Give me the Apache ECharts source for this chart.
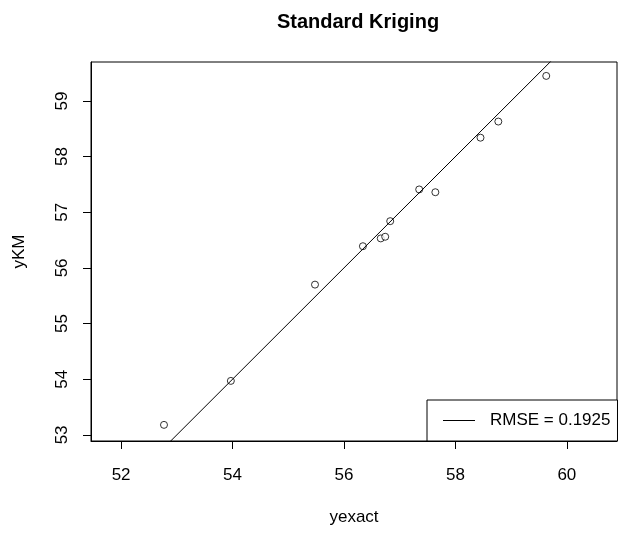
<!DOCTYPE html>
<html>
<head>
<meta charset="utf-8">
<script src="https://cdn.jsdelivr.net/npm/echarts@6/dist/echarts.min.js"></script>
<style>html,body{margin:0;padding:0;background:#fff;}#c{width:620px;height:533px;}</style>
</head>
<body>
<div id="c"></div>
<script>
// Data
var yexact = [52.77, 53.97, 55.48, 56.34, 56.66, 56.74, 56.83, 57.35, 57.64, 58.45, 58.77, 59.63];
var yKM    = [53.18, 53.97, 55.70, 56.39, 56.53, 56.56, 56.84, 57.41, 57.36, 58.34, 58.63, 59.45];
var xTicks = [52, 54, 56, 58, 60];
var yTicks = [53, 54, 55, 56, 57, 58, 59];
var refLine = [[50, 50], [62, 62]]; // y = x
var legendLabel = 'RMSE = 0.1925';
var titleText = 'Standard Kriging';

var points = yexact.map(function (x, i) { return [x, yKM[i]]; });
var font = 'Liberation Sans, Arial, sans-serif';

var chart = echarts.init(document.getElementById('c'), null, {renderer: 'canvas'});
chart.setOption({
  animation: false,
  backgroundColor: '#fff',
  title: {
    text: titleText,
    left: 353, top: 7, textAlign: 'center',
    textStyle: {fontFamily: font, fontSize: 20, fontWeight: 'bold', color: '#000'}
  },
  grid: {
    left: 91, top: 62, right: 3, bottom: 92,
    show: true, borderColor: '#000', borderWidth: 1, backgroundColor: 'transparent'
  },
  xAxis: {
    type: 'value', min: 51.46, max: 60.9,
    name: 'yexact', nameLocation: 'middle', nameGap: 68,
    nameTextStyle: {fontFamily: font, fontSize: 17, color: '#000'},
    axisLine: {show: true, onZero: false, lineStyle: {color: '#000', width: 1}},
    axisTick: {show: true, length: 8, lineStyle: {color: '#000'}, customValues: xTicks},
    axisLabel: {show: true, margin: 26, fontFamily: font, fontSize: 17, color: '#000', customValues: xTicks},
    splitLine: {show: false}
  },
  yAxis: {
    type: 'value', min: 52.89, max: 59.7,
    name: 'yKM', nameLocation: 'middle', nameGap: 63, nameRotate: 90,
    nameTextStyle: {fontFamily: font, fontSize: 17, color: '#000'},
    axisLine: {show: true, onZero: false, lineStyle: {color: '#000', width: 1}},
    axisTick: {show: true, length: 8, lineStyle: {color: '#000'}, customValues: yTicks},
    axisLabel: {show: true, rotate: 90, margin: 20, fontFamily: font, fontSize: 17, color: '#000', customValues: yTicks},
    splitLine: {show: false}
  },
  legend: {
    show: true, left: 427, bottom: 92,
    orient: 'vertical',
    data: [{name: legendLabel, icon: 'rect'}],
    itemWidth: 32, itemHeight: 1,
    padding: [12, 7, 12, 16],
    backgroundColor: '#fff', borderColor: '#000', borderWidth: 1, borderRadius: 0,
    textStyle: {fontFamily: font, fontSize: 17, color: '#000', padding: [0, 0, 0, 10]},
    selectedMode: false
  },
  series: [
    {
      name: legendLabel, type: 'line', data: refLine, showSymbol: false, clip: true,
      lineStyle: {color: '#000', width: 1}, itemStyle: {color: '#000'}, silent: true
    },
    {
      name: 'points', type: 'scatter', data: points, symbol: 'circle', symbolSize: 7,
      itemStyle: {color: '#fff', borderColor: '#000', borderWidth: 1}, silent: true
    }
  ]
});
</script>
</body>
</html>
